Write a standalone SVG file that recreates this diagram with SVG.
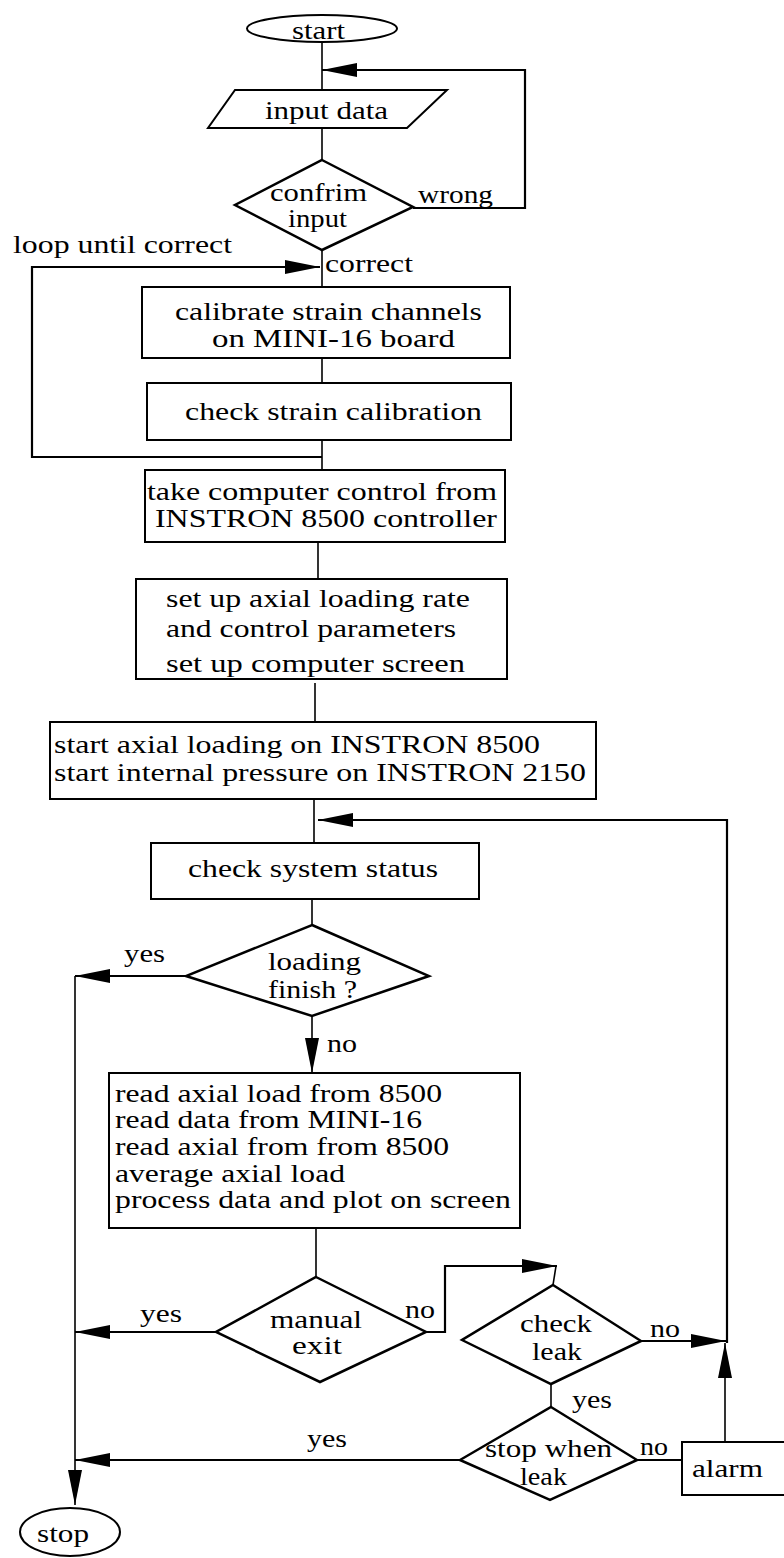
<svg xmlns="http://www.w3.org/2000/svg" width="784" height="1558" viewBox="0 0 784 1558">
<style>
.bg{fill:#fff}
.n{fill:#fff;stroke:#000;stroke-width:2}
.d{fill:#fff;stroke:#000;stroke-width:2.5}
.c{fill:none;stroke:#000;stroke-width:1.6}
.ca{fill:none;stroke:#000;stroke-width:2.2}
text{font-family:"Liberation Serif","Times New Roman",serif;font-size:25px;fill:#000}
</style>
<defs>
<marker id="ah" markerUnits="userSpaceOnUse" markerWidth="36" markerHeight="16" refX="35" refY="7" orient="auto">
<path d="M0,0 L35,7 L0,14 z" fill="#000"/>
</marker>
</defs>
<rect class="bg" x="0" y="0" width="784" height="1558"/>
<g id="connectors">
<line class="c" x1="322" y1="42" x2="322" y2="90"/>
<line class="c" x1="322" y1="128" x2="322" y2="160"/>
<polyline class="ca" points="413,208 525,208 525,70 322,70" marker-end="url(#ah)"/>
<line class="c" x1="322" y1="250" x2="322" y2="287"/>
<polyline class="ca" points="322,457 32,457 32,267 320,267" marker-end="url(#ah)"/>
<line class="c" x1="322" y1="358" x2="322" y2="383"/>
<line class="c" x1="322" y1="440" x2="322" y2="470"/>
<line class="c" x1="318" y1="542" x2="318" y2="579"/>
<line class="c" x1="315" y1="683" x2="315" y2="722"/>
<line class="c" x1="314" y1="799" x2="314" y2="843"/>
<polyline class="ca" points="727,1343 727,820 318,820" marker-end="url(#ah)"/>
<line class="c" x1="312" y1="899" x2="312" y2="925"/>
<line class="ca" x1="186" y1="976" x2="75" y2="976" marker-end="url(#ah)"/>
<line class="c" x1="312" y1="1016" x2="312" y2="1073" marker-end="url(#ah)"/>
<line class="c" x1="316" y1="1228" x2="316" y2="1277"/>
<line class="ca" x1="216" y1="1332" x2="75" y2="1332" marker-end="url(#ah)"/>
<polyline class="ca" points="426,1332 445,1332 445,1266 557,1266" marker-end="url(#ah)"/>
<line class="c" x1="556" y1="1266" x2="553" y2="1285"/>
<line class="ca" x1="641" y1="1341" x2="726" y2="1341" marker-end="url(#ah)"/>
<line class="c" x1="725" y1="1442" x2="725" y2="1343" marker-end="url(#ah)"/>
<line class="c" x1="551" y1="1384" x2="551" y2="1407"/>
<line class="ca" x1="460" y1="1460" x2="75" y2="1460" marker-end="url(#ah)"/>
<line class="ca" x1="637" y1="1460" x2="682" y2="1460"/>
<line class="c" x1="75" y1="976" x2="75" y2="1505" marker-end="url(#ah)"/>
</g>
<g id="start">
<ellipse class="n" cx="322" cy="28.5" rx="75" ry="13.5"/>
<text x="292" y="39" textLength="53" lengthAdjust="spacingAndGlyphs">start</text>
</g>
<g id="input-data">
<polygon class="n" points="235,90 447,90 407,128 208,128"/>
<text x="265" y="119" textLength="123" lengthAdjust="spacingAndGlyphs">input data</text>
</g>
<g id="confirm-input">
<polygon class="d" points="322,160 413,207 322,250 235,205"/>
<text x="270" y="201" textLength="97" lengthAdjust="spacingAndGlyphs">confrim</text>
<text x="288" y="227" textLength="59" lengthAdjust="spacingAndGlyphs">input</text>
</g>
<g id="labels-top">
<text x="418" y="203" textLength="75" lengthAdjust="spacingAndGlyphs">wrong</text>
<text x="325" y="272" textLength="88" lengthAdjust="spacingAndGlyphs">correct</text>
<text x="13" y="253" textLength="219" lengthAdjust="spacingAndGlyphs">loop until correct</text>
</g>
<g id="calibrate">
<rect class="n" x="142" y="287" width="368" height="71"/>
<text x="175" y="320" textLength="307" lengthAdjust="spacingAndGlyphs">calibrate strain channels</text>
<text x="212" y="347" textLength="243" lengthAdjust="spacingAndGlyphs">on  MINI-16 board</text>
</g>
<g id="check-calibration">
<rect class="n" x="147" y="383" width="364" height="57"/>
<text x="185" y="420" textLength="297" lengthAdjust="spacingAndGlyphs">check strain calibration</text>
</g>
<g id="take-control">
<rect class="n" x="145" y="470" width="360" height="72"/>
<text x="147" y="500" textLength="350" lengthAdjust="spacingAndGlyphs">take computer control from</text>
<text x="155" y="527" textLength="342" lengthAdjust="spacingAndGlyphs">INSTRON 8500 controller</text>
</g>
<g id="set-up">
<rect class="n" x="136" y="579" width="371" height="100"/>
<text x="166" y="607" textLength="304" lengthAdjust="spacingAndGlyphs">set up axial loading rate</text>
<text x="166" y="637" textLength="290" lengthAdjust="spacingAndGlyphs">and control parameters</text>
<text x="166" y="672" textLength="299" lengthAdjust="spacingAndGlyphs">set  up computer screen</text>
</g>
<g id="start-loading">
<rect class="n" x="50" y="722" width="546" height="77"/>
<text x="54" y="753" textLength="486" lengthAdjust="spacingAndGlyphs">start axial loading on INSTRON 8500</text>
<text x="54" y="781" textLength="532" lengthAdjust="spacingAndGlyphs">start internal pressure on INSTRON 2150</text>
</g>
<g id="check-status">
<rect class="n" x="151" y="843" width="328" height="56"/>
<text x="188" y="877" textLength="250" lengthAdjust="spacingAndGlyphs">check system status</text>
</g>
<g id="loading-finish">
<polygon class="d" points="312,925 429,976 312,1016 186,976"/>
<text x="268" y="970" textLength="93" lengthAdjust="spacingAndGlyphs">loading</text>
<text x="268" y="998" textLength="89" lengthAdjust="spacingAndGlyphs">finish ?</text>
<text x="124" y="962" textLength="41" lengthAdjust="spacingAndGlyphs">yes</text>
<text x="327" y="1052" textLength="30" lengthAdjust="spacingAndGlyphs">no</text>
</g>
<g id="read-data">
<rect class="n" x="109" y="1073" width="411" height="155"/>
<text x="115" y="1102" textLength="327" lengthAdjust="spacingAndGlyphs">read axial load from 8500</text>
<text x="115" y="1128" textLength="307" lengthAdjust="spacingAndGlyphs">read data from MINI-16</text>
<text x="115" y="1155" textLength="334" lengthAdjust="spacingAndGlyphs">read axial from from 8500</text>
<text x="115" y="1182" textLength="230" lengthAdjust="spacingAndGlyphs">average axial load</text>
<text x="115" y="1208" textLength="396" lengthAdjust="spacingAndGlyphs">process data and plot on screen</text>
</g>
<g id="manual-exit">
<polygon class="d" points="316,1277 426,1332 320,1382 216,1332"/>
<text x="270" y="1328" textLength="92" lengthAdjust="spacingAndGlyphs">manual</text>
<text x="292" y="1354" textLength="50" lengthAdjust="spacingAndGlyphs">exit</text>
<text x="140" y="1322" textLength="42" lengthAdjust="spacingAndGlyphs">yes</text>
<text x="405" y="1318" textLength="30" lengthAdjust="spacingAndGlyphs">no</text>
</g>
<g id="check-leak">
<polygon class="d" points="553,1285 641,1341 551,1384 462,1340"/>
<text x="520" y="1332" textLength="72" lengthAdjust="spacingAndGlyphs">check</text>
<text x="532" y="1360" textLength="50" lengthAdjust="spacingAndGlyphs">leak</text>
<text x="650" y="1337" textLength="30" lengthAdjust="spacingAndGlyphs">no</text>
<text x="572" y="1408" textLength="40" lengthAdjust="spacingAndGlyphs">yes</text>
</g>
<g id="stop-when-leak">
<polygon class="d" points="551,1407 637,1460 550,1500 460,1460"/>
<text x="485" y="1457" textLength="127" lengthAdjust="spacingAndGlyphs">stop when</text>
<text x="520" y="1485" textLength="47" lengthAdjust="spacingAndGlyphs">leak</text>
<text x="307" y="1447" textLength="40" lengthAdjust="spacingAndGlyphs">yes</text>
<text x="640" y="1455" textLength="28" lengthAdjust="spacingAndGlyphs">no</text>
</g>
<g id="alarm">
<rect class="n" x="682" y="1442" width="110" height="53"/>
<text x="692" y="1477" textLength="71" lengthAdjust="spacingAndGlyphs">alarm</text>
</g>
<g id="stop">
<ellipse class="n" cx="70" cy="1532" rx="50" ry="24"/>
<text x="37" y="1542" textLength="52" lengthAdjust="spacingAndGlyphs">stop</text>
</g>
</svg>
